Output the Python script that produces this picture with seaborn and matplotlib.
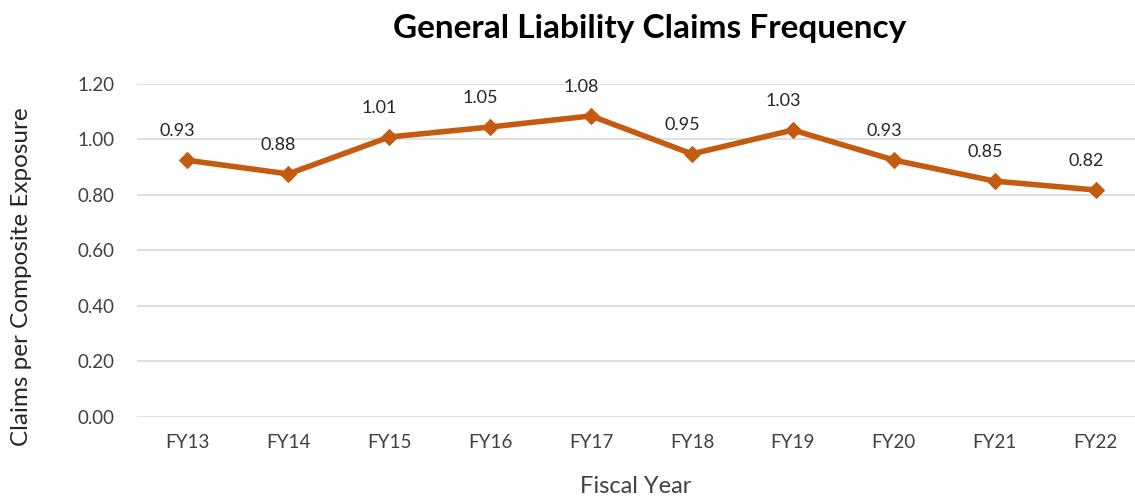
import matplotlib
matplotlib.use("Agg")
import matplotlib.pyplot as plt
import seaborn as sns
import pandas as pd

# Data
years = ["FY13", "FY14", "FY15", "FY16", "FY17", "FY18", "FY19", "FY20", "FY21", "FY22"]
frequency = [0.925, 0.876, 1.009, 1.045, 1.085, 0.948, 1.034, 0.926, 0.850, 0.818]
labels = ["0.93", "0.88", "1.01", "1.05", "1.08", "0.95", "1.03", "0.93", "0.85", "0.82"]

df = pd.DataFrame({"year": years, "freq": frequency})
df["pos"] = range(len(years))

sns.set_style("white")
plt.rcParams["font.family"] = ["Lato", "DejaVu Sans"]

color = "#C55A11"

fig = plt.figure(figsize=(11.35, 4.97), dpi=100)
ax = fig.add_axes([0.1207, 0.161, 0.8793, 0.670])

sns.lineplot(data=df, x="pos", y="freq", ax=ax, color=color, linewidth=4,
             marker="D", markersize=8, markeredgecolor=color)

for i, (v, lab) in enumerate(zip(frequency, labels)):
    ax.annotate(lab, (i, v), xytext=(-7, 15), textcoords="offset points",
                ha="center", va="bottom", fontsize=13, color="#262626")

ax.set_ylim(0, 1.2)
ax.set_xlim(-0.5, 9.39)
ax.set_yticks([0, 0.2, 0.4, 0.6, 0.8, 1.0, 1.2])
ax.set_yticklabels([f"{t:.2f}" for t in [0, 0.2, 0.4, 0.6, 0.8, 1.0, 1.2]])
ax.set_xticks(range(len(years)))
ax.set_xticklabels(years)
ax.tick_params(axis="both", labelsize=13.5, colors="#404040", length=0)
ax.tick_params(axis="y", pad=16)
ax.tick_params(axis="x", pad=12)
ax.grid(axis="y", color="#D9D9D9", linewidth=1.2)
ax.set_axisbelow(True)
for s in ax.spines.values():
    s.set_visible(False)

ax.set_xlabel("Fiscal Year", fontsize=17, color="#404040", labelpad=18)
ax.set_ylabel("Claims per Composite Exposure", fontsize=17.5, color="#262626")
ax.yaxis.set_label_coords(-0.105, 0.42)

fig.text(0.572, 0.943, "General Liability Claims Frequency", ha="center", va="center",
         fontsize=24, fontweight="bold", color="black")

fig.savefig("out.png", dpi=100)
